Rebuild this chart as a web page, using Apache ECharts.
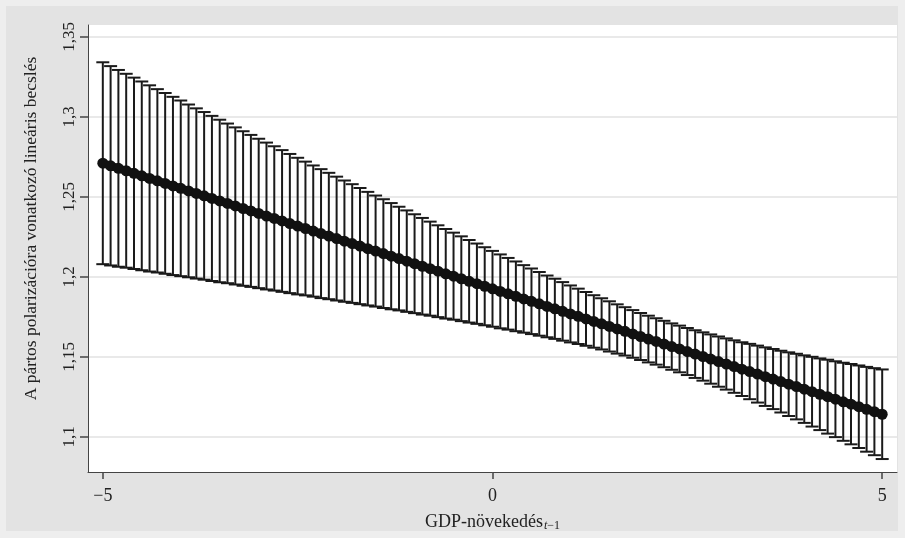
<!DOCTYPE html>
<html>
<head>
<meta charset="utf-8">
<script src="https://cdn.jsdelivr.net/npm/echarts@6/dist/echarts.min.js"></script>
<style>
html,body{margin:0;padding:0;background:#eeeeee;}
#c{width:905px;height:538px;}
</style>
</head>
<body>
<div id="c"></div>
<script>
// GDP growth (t-1) values
const xValues = [-5,-4.9,-4.8,-4.7,-4.6,-4.5,-4.4,-4.3,-4.2,-4.1,-4,-3.9,-3.8,-3.7,-3.6,-3.5,-3.4,-3.3,-3.2,-3.1,-3,-2.9,-2.8,-2.7,-2.6,-2.5,-2.4,-2.3,-2.2,-2.1,-2,-1.9,-1.8,-1.7,-1.6,-1.5,-1.4,-1.3,-1.2,-1.1,-1,-0.9,-0.8,-0.7,-0.6,-0.5,-0.4,-0.3,-0.2,-0.1,0,0.1,0.2,0.3,0.4,0.5,0.6,0.7,0.8,0.9,1,1.1,1.2,1.3,1.4,1.5,1.6,1.7,1.8,1.9,2,2.1,2.2,2.3,2.4,2.5,2.6,2.7,2.8,2.9,3,3.1,3.2,3.3,3.4,3.5,3.6,3.7,3.8,3.9,4,4.1,4.2,4.3,4.4,4.5,4.6,4.7,4.8,4.9,5];
// linear prediction
const estimate = [1.2711,1.2695,1.2679,1.2664,1.2648,1.2632,1.2616,1.2601,1.2585,1.2569,1.2554,1.2538,1.2522,1.2507,1.2491,1.2475,1.2460,1.2444,1.2428,1.2413,1.2397,1.2381,1.2366,1.2350,1.2334,1.2318,1.2303,1.2287,1.2271,1.2256,1.2240,1.2224,1.2209,1.2193,1.2177,1.2162,1.2146,1.2130,1.2115,1.2099,1.2083,1.2067,1.2052,1.2036,1.2020,1.2005,1.1989,1.1973,1.1958,1.1942,1.1926,1.1910,1.1895,1.1879,1.1863,1.1848,1.1832,1.1816,1.1801,1.1785,1.1769,1.1754,1.1738,1.1722,1.1707,1.1691,1.1675,1.1660,1.1644,1.1628,1.1612,1.1597,1.1581,1.1565,1.1550,1.1534,1.1518,1.1503,1.1487,1.1471,1.1456,1.1440,1.1424,1.1409,1.1393,1.1377,1.1362,1.1346,1.1330,1.1315,1.1299,1.1283,1.1267,1.1252,1.1236,1.1220,1.1205,1.1189,1.1173,1.1158,1.1142];
// upper confidence bound
const upper = [1.3342,1.3318,1.3294,1.3270,1.3246,1.3222,1.3198,1.3174,1.3150,1.3126,1.3103,1.3078,1.3054,1.3031,1.3007,1.2983,1.2959,1.2935,1.2911,1.2888,1.2864,1.2840,1.2817,1.2793,1.2769,1.2745,1.2721,1.2697,1.2674,1.2651,1.2627,1.2603,1.2580,1.2556,1.2532,1.2509,1.2486,1.2462,1.2439,1.2416,1.2392,1.2369,1.2346,1.2323,1.2300,1.2277,1.2254,1.2231,1.2209,1.2186,1.2163,1.2141,1.2119,1.2097,1.2074,1.2053,1.2031,1.2009,1.1989,1.1968,1.1947,1.1927,1.1906,1.1886,1.1867,1.1848,1.1829,1.1811,1.1793,1.1775,1.1758,1.1742,1.1726,1.1710,1.1696,1.1681,1.1667,1.1654,1.1641,1.1628,1.1616,1.1604,1.1592,1.1582,1.1571,1.1560,1.1550,1.1539,1.1529,1.1520,1.1510,1.1501,1.1491,1.1483,1.1473,1.1464,1.1456,1.1447,1.1438,1.1430,1.1422];
// lower confidence bound
const lower = [1.2080,1.2072,1.2064,1.2058,1.2050,1.2042,1.2034,1.2028,1.2020,1.2012,1.2005,1.1998,1.1990,1.1983,1.1975,1.1967,1.1961,1.1953,1.1945,1.1938,1.1930,1.1922,1.1915,1.1907,1.1899,1.1891,1.1885,1.1877,1.1868,1.1861,1.1853,1.1845,1.1838,1.1830,1.1822,1.1815,1.1806,1.1798,1.1791,1.1782,1.1774,1.1765,1.1758,1.1749,1.1740,1.1733,1.1724,1.1715,1.1707,1.1698,1.1689,1.1679,1.1671,1.1661,1.1652,1.1643,1.1633,1.1623,1.1613,1.1602,1.1591,1.1581,1.1570,1.1558,1.1547,1.1534,1.1521,1.1509,1.1495,1.1481,1.1466,1.1452,1.1436,1.1420,1.1404,1.1387,1.1369,1.1352,1.1333,1.1314,1.1296,1.1276,1.1256,1.1236,1.1215,1.1194,1.1174,1.1153,1.1131,1.1110,1.1088,1.1065,1.1043,1.1021,1.0999,1.0976,1.0954,1.0931,1.0908,1.0886,1.0862];
const yTicks = [1.1, 1.15, 1.2, 1.25, 1.3, 1.35];
const xTicks = [-5, 0, 5];
const yTitle = 'A pártos polarizációra vonatkozó lineáris becslés';

const FONT = 'Liberation Serif';
const chart = echarts.init(document.getElementById('c'), null, {renderer: 'canvas'});

const ciData = xValues.map((x, i) => [x, lower[i], upper[i]]);
const estData = xValues.map((x, i) => [x, estimate[i]]);

chart.setOption({
  backgroundColor: '#eeeeee',
  animation: false,
  graphic: [{
    type: 'rect', z: -10, silent: true,
    shape: {x: 6, y: 6, width: 892, height: 525},
    style: {fill: '#e3e3e3'}
  }],
  grid: {left: 88, top: 25, right: 8, bottom: 66, show: true, backgroundColor: '#ffffff', borderWidth: 0},
  xAxis: {
    type: 'value', min: -5.19, max: 5.19,
    axisLine: {show: true, onZero: false, lineStyle: {color: '#444', width: 1}},
    axisTick: {show: true, length: 7, customValues: xTicks, lineStyle: {color: '#444', width: 1.5}},
    axisLabel: {customValues: xTicks, margin: 15, fontFamily: FONT, fontSize: 18, color: '#222',
      formatter: v => (v < 0 ? '\u2212' + Math.abs(v) : String(v))},
    splitLine: {show: false},
    name: 'GDP-növekedés{t|t}{m|\u22121}',
    nameLocation: 'middle', nameGap: 40,
    nameTextStyle: {fontFamily: FONT, fontSize: 18, color: '#222', lineHeight: 20,
      rich: {
        t: {fontFamily: FONT, fontSize: 12, fontStyle: 'italic', color: '#222', lineHeight: 12, padding: [8, 0, 0, 1], verticalAlign: 'middle'},
        m: {fontFamily: FONT, fontSize: 12, color: '#222', lineHeight: 12, padding: [8, 0, 0, 0], verticalAlign: 'middle'}
      }}
  },
  yAxis: {
    type: 'value', min: 1.0781, max: 1.3575,
    axisLine: {show: true, onZero: false, lineStyle: {color: '#444', width: 1}},
    axisTick: {show: true, length: 8, customValues: yTicks, lineStyle: {color: '#444', width: 1.5}},
    axisLabel: {customValues: yTicks, rotate: 90, margin: 10, fontFamily: FONT, fontSize: 17, color: '#222',
      formatter: v => String(v).replace('.', ',')},
    splitLine: {show: true, lineStyle: {color: '#e2e2e2', width: 1.5}},
    name: yTitle, nameLocation: 'middle', nameRotate: 90, nameGap: 48,
    nameTextStyle: {fontFamily: FONT, fontSize: 17.5, color: '#222', padding: [0, 0, 0, 40]}
  },
  series: [
    {
      type: 'custom',
      data: ciData,
      encode: {x: 0, y: [1, 2]},
      renderItem: function (params, api) {
        const x = api.value(0);
        const lo = api.coord([x, api.value(1)]);
        const hi = api.coord([x, api.value(2)]);
        const cap = 6.5;
        const style = {stroke: '#1a1a1a', lineWidth: 2, fill: null};
        return {
          type: 'group',
          children: [
            {type: 'line', shape: {x1: lo[0], y1: lo[1], x2: hi[0], y2: hi[1]}, style: style},
            {type: 'line', shape: {x1: hi[0] - cap, y1: hi[1], x2: hi[0] + cap, y2: hi[1]}, style: style},
            {type: 'line', shape: {x1: lo[0] - cap, y1: lo[1], x2: lo[0] + cap, y2: lo[1]}, style: style}
          ]
        };
      },
      z: 2
    },
    {
      type: 'line',
      data: estData,
      symbol: 'circle', symbolSize: 11, showSymbol: true,
      lineStyle: {color: '#111', width: 8},
      itemStyle: {color: '#111'},
      z: 3
    }
  ]
});
</script>
</body>
</html>
